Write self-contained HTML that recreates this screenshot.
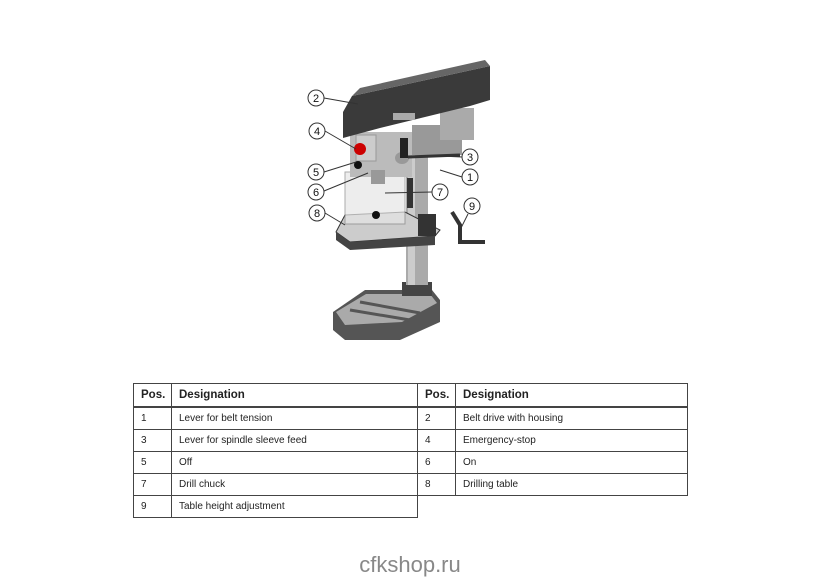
<!DOCTYPE html>
<html><head><meta charset="utf-8"><style>
body{margin:0;width:820px;height:580px;background:#fff;position:relative;font-family:"Liberation Sans",Arial,sans-serif;overflow:hidden}
table{position:absolute;border-collapse:collapse;font-size:10px;color:#222}
td{border:1px solid #444;height:21px;padding:0 0 0 7px}
.h td{font-weight:bold;font-size:11.5px;height:22px;border-bottom:2px solid #444}
.foot{position:absolute;left:0;width:820px;top:552px;text-align:center;font-size:22px;color:#888}
</style></head><body>
<svg width="820" height="360" style="position:absolute;left:0;top:0" font-family="Liberation Sans,Arial,sans-serif">
<!-- base -->
<polygon points="333,312 365,290 432,290 440,300 440,322 400,340 345,340 333,330" fill="#555"/>
<polygon points="336,312 366,294 430,294 437,303 402,322 345,325" fill="#aaa"/>
<line x1="360" y1="302" x2="420" y2="313" stroke="#555" stroke-width="3"/>
<line x1="350" y1="310" x2="410" y2="320" stroke="#555" stroke-width="3"/>
<rect x="402" y="282" width="30" height="14" fill="#444"/>
<!-- column -->
<rect x="406" y="150" width="22" height="135" fill="#aaa"/>
<rect x="408" y="150" width="7" height="135" fill="#ccc"/>
<!-- table -->
<polygon points="345,215 405,212 440,230 435,236 350,242 336,232" fill="#ccc" stroke="#333"/>
<polygon points="336,232 350,242 435,236 435,245 350,250 336,240" fill="#444"/>
<rect x="418" y="214" width="18" height="22" fill="#333"/>
<path d="M452,212 L460,225 L460,242 L485,242" stroke="#333" stroke-width="4" fill="none"/>
<!-- guard -->
<rect x="345" y="172" width="60" height="52" fill="#e6e6e6" opacity=".7" stroke="#888"/>
<circle cx="376" cy="215" r="4" fill="#111"/>
<!-- head -->
<rect x="350" y="132" width="62" height="45" fill="#bbb"/>
<rect x="356" y="135" width="20" height="26" fill="#ccc" stroke="#999"/>
<circle cx="360" cy="149" r="6" fill="#c00"/>
<circle cx="358" cy="165" r="4" fill="#111"/>
<rect x="371" y="170" width="14" height="14" fill="#999"/>
<rect x="412" y="125" width="50" height="30" fill="#999"/>
<rect x="440" y="108" width="34" height="32" fill="#aaa"/>
<ellipse cx="402" cy="158" rx="7" ry="6" fill="#999"/>
<line x1="408" y1="157" x2="460" y2="155" stroke="#333" stroke-width="3"/>
<rect x="400" y="138" width="8" height="20" fill="#222"/>
<rect x="407" y="178" width="6" height="30" fill="#333"/>
<!-- belt housing -->
<polygon points="343,112 352,96 490,66 490,100 470,106 380,128 343,138" fill="#3a3a3a"/>
<polygon points="352,96 490,66 485,60 360,88" fill="#666"/>
<rect x="393" y="113" width="22" height="7" fill="#aaa"/>
<!-- callouts -->
<g stroke="#333" stroke-width="1" fill="#fff" font-size="11" text-anchor="middle">
<line x1="324" y1="98" x2="358" y2="104"/>
<line x1="325" y1="131" x2="356" y2="149"/>
<line x1="324" y1="172" x2="356" y2="162"/>
<line x1="324" y1="191" x2="368" y2="173"/>
<line x1="325" y1="213" x2="345" y2="225"/>
<line x1="462" y1="157" x2="440" y2="156"/>
<line x1="462" y1="177" x2="440" y2="170"/>
<line x1="432" y1="192" x2="385" y2="193"/>
<line x1="468" y1="214" x2="460" y2="230"/>
<circle cx="316" cy="98" r="8"/><circle cx="317" cy="131" r="8"/><circle cx="316" cy="172" r="8"/>
<circle cx="316" cy="192" r="8"/><circle cx="317" cy="213" r="8"/><circle cx="470" cy="157" r="8"/>
<circle cx="470" cy="177" r="8"/><circle cx="440" cy="192" r="8"/><circle cx="472" cy="206" r="8"/>
</g>
<g font-size="11" text-anchor="middle" fill="#111">
<text x="316" y="102">2</text><text x="317" y="135">4</text><text x="316" y="176">5</text>
<text x="316" y="196">6</text><text x="317" y="217">8</text><text x="470" y="161">3</text>
<text x="470" y="181">1</text><text x="440" y="196">7</text><text x="472" y="210">9</text>
</g>
</svg>
<table style="left:133px;top:383px;width:555px">
<tr class="h"><td style="width:30px">Pos.</td><td style="width:238px">Designation</td><td style="width:30px">Pos.</td><td>Designation</td></tr>
<tr><td>1</td><td>Lever for belt tension</td><td>2</td><td>Belt drive with housing</td></tr>
<tr><td>3</td><td>Lever for spindle sleeve feed</td><td>4</td><td>Emergency-stop</td></tr>
<tr><td>5</td><td>Off</td><td>6</td><td>On</td></tr>
<tr><td>7</td><td>Drill chuck</td><td>8</td><td>Drilling table</td></tr>
<tr><td>9</td><td>Table height adjustment</td><td style="border:none;border-top:1px solid #444"></td><td style="border:none;border-top:1px solid #444"></td></tr>
</table>
<div class="foot">cfkshop.ru</div>
</body></html>
